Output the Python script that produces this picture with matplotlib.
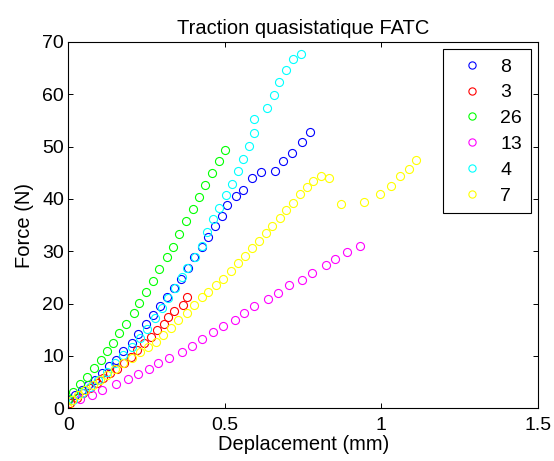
import matplotlib
matplotlib.use('Agg')
import matplotlib.pyplot as plt

plt.rcParams['font.family'] = ['Liberation Sans', 'DejaVu Sans']

# essais de traction, deplacement (mm) / force (N)
labels = ['8', '3', '26', '13', '4', '7']
colors = ['#0000ff', '#ff0000', '#00ff00', '#ff00ff', '#00ffff', '#ffff00']

x8 = [0.0, 0.021, 0.043, 0.064, 0.085, 0.107, 0.131, 0.152, 0.176, 0.202, 0.224, 0.247,
      0.270, 0.293, 0.316, 0.339, 0.359, 0.381, 0.402, 0.426, 0.445, 0.469, 0.490, 0.508,
      0.536, 0.557, 0.588, 0.614, 0.659, 0.687, 0.715, 0.746, 0.772]
y8 = [1.6, 2.5, 3.5, 4.5, 5.4, 6.7, 8.0, 9.2, 10.9, 12.4, 14.2, 16.1,
      17.8, 19.5, 21.3, 22.9, 24.8, 26.9, 29.0, 30.9, 32.8, 34.8, 36.8, 38.8,
      40.6, 41.8, 44.0, 45.2, 45.4, 47.3, 48.8, 50.8, 52.8]

x3 = [0.005, 0.027, 0.048, 0.069, 0.091, 0.112, 0.133, 0.157, 0.178, 0.199, 0.220, 0.242,
      0.264, 0.284, 0.306, 0.319, 0.339, 0.366, 0.379]
y3 = [1.1, 1.9, 2.9, 3.8, 4.8, 5.7, 6.7, 7.6, 8.6, 9.9, 11.1, 12.4,
      13.7, 15.0, 16.1, 17.5, 18.6, 19.8, 21.2]

x26 = [0.0, 0.016, 0.037, 0.060, 0.081, 0.1035, 0.125, 0.144, 0.162, 0.185, 0.209, 0.227,
       0.247, 0.271, 0.290, 0.314, 0.333, 0.355, 0.376, 0.397, 0.4175, 0.4376, 0.458, 0.480,
       0.4995]
y26 = [1.8, 3.1, 4.6, 5.9, 7.7, 9.2, 11.0, 12.5, 14.3, 16.2, 18.2, 20.1,
       22.2, 24.4, 26.7, 28.9, 30.9, 33.4, 35.7, 38.0, 40.3, 42.7, 45.0, 47.3,
       49.4]

x13 = [0.037, 0.075, 0.107, 0.152, 0.190, 0.222, 0.258, 0.287, 0.322, 0.364, 0.394, 0.426,
       0.461, 0.493, 0.531, 0.560, 0.594, 0.638, 0.669, 0.704, 0.745, 0.778, 0.823, 0.853,
       0.889, 0.932]
y13 = [1.7, 2.5, 3.5, 4.6, 5.6, 6.5, 7.5, 8.7, 9.7, 10.7, 12.0, 13.2,
       14.5, 15.8, 16.9, 18.3, 19.6, 20.8, 22.1, 23.5, 24.5, 25.8, 27.3, 28.5,
       29.9, 31.1]

x4 = [0.016, 0.043, 0.069, 0.096, 0.123, 0.149, 0.176, 0.202, 0.229, 0.252, 0.277, 0.298,
      0.319, 0.341, 0.362, 0.378, 0.405, 0.426, 0.442, 0.463, 0.481, 0.503, 0.524, 0.541,
      0.557, 0.576, 0.593, 0.593, 0.634, 0.656, 0.674, 0.695, 0.719, 0.742]
y4 = [1.6, 2.9, 4.1, 5.4, 7.0, 8.6, 10.2, 11.8, 13.4, 15.2, 17.2, 19.1,
      21.0, 22.9, 25.0, 26.9, 29.0, 31.1, 33.7, 36.1, 38.2, 40.7, 42.9, 45.4,
      47.7, 50.1, 52.7, 55.2, 57.4, 59.9, 62.4, 64.6, 66.7, 67.7]

x7 = [0.0, 0.011, 0.032, 0.053, 0.080, 0.101, 0.123, 0.149, 0.176, 0.202, 0.229, 0.256,
      0.279, 0.303, 0.327, 0.351, 0.378, 0.402, 0.426, 0.447, 0.471, 0.495, 0.520, 0.542,
      0.565, 0.588, 0.609, 0.630, 0.652, 0.676, 0.696, 0.719, 0.741, 0.762, 0.783, 0.806,
      0.834, 0.872, 0.944, 0.997, 1.031, 1.060, 1.087, 1.110]
y7 = [0.0, 1.6, 2.5, 3.5, 4.5, 5.4, 6.4, 7.5, 8.6, 9.6, 10.8, 11.8,
      12.7, 14.0, 15.3, 16.9, 18.3, 19.7, 21.2, 22.3, 23.6, 24.8, 26.3, 27.7,
      29.1, 30.6, 32.0, 33.5, 34.9, 36.4, 37.8, 39.2, 40.9, 42.3, 43.5, 44.4,
      44.0, 39.1, 39.5, 41.0, 42.5, 44.3, 45.8, 47.4]

xs = [x8, x3, x26, x13, x4, x7]
ys = [y8, y3, y26, y13, y4, y7]

fig = plt.figure(figsize=(5.54, 4.61), dpi=100)
ax = fig.add_axes([0.1233, 0.1143, 0.8478, 0.7946])

for x, y, c, lab in zip(xs, ys, colors, labels):
    ax.plot(x, y, 'o', mfc='none', mec=c, ms=5.8, mew=0.8, label=lab)

ax.set_xlim(0, 1.5)
ax.set_ylim(0, 70)
ax.set_xticks([0, 0.5, 1, 1.5])
ax.set_xticklabels(['0', '0.5', '1', '1.5'])
ax.set_yticks(range(0, 71, 10))
ax.tick_params(direction='in', top=True, right=True, length=3.5, width=0.7,
               labelsize=14, pad=3)
ax.tick_params(axis='x', pad=6)
for s in ax.spines.values():
    s.set_linewidth(0.8)

ax.set_title('Traction quasistatique FATC', fontsize=14.5, pad=6)
ax.set_xlabel('Deplacement (mm)', fontsize=14.5, labelpad=1)
ax.set_ylabel('Force (N)', fontsize=14.5, labelpad=6)

leg = ax.legend(loc='upper right', bbox_to_anchor=(0.985, 0.98), borderaxespad=0,
                fontsize=14, fancybox=False, edgecolor='k', framealpha=1,
                markerscale=0.9, handlelength=2.1, labelspacing=0.42,
                borderpad=0.45, handletextpad=0.4)
leg.get_frame().set_linewidth(0.8)

fig.savefig('out.png', dpi=100)
